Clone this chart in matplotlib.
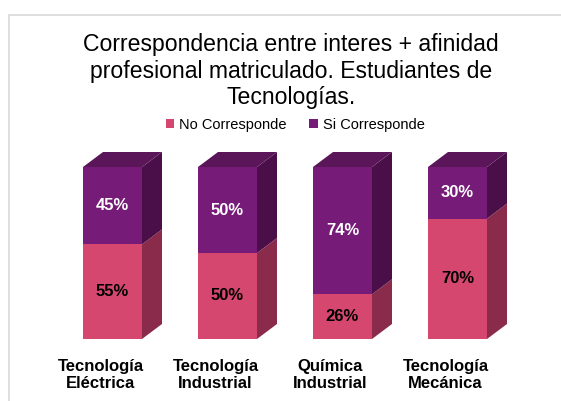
import matplotlib.pyplot as plt
from matplotlib.patches import Polygon, Rectangle, Patch

# datos
carreras = ["Tecnología\nEléctrica", "Tecnología\nIndustrial", "Química\nIndustrial", "Tecnología\nMecánica"]
no_corresponde = [55, 50, 26, 70]
si_corresponde = [45, 50, 74, 30]
series = ["No Corresponde", "Si Corresponde"]

# colores (frente, lado, arriba)
rosa = ("#D5476F", "#8A2B4C", "#B03A60")
morado = ("#761B77", "#4A0F48", "#5B1659")

plt.rcParams['font.family'] = ['Liberation Sans', 'DejaVu Sans']

fig = plt.figure(figsize=(5.61, 4.01), dpi=100)

# marco gris claro
fig.patches.append(Rectangle((9 / 561, -0.05), 1.1, (401 - 15) / 401 + 0.05,
                             transform=fig.transFigure, fill=False,
                             edgecolor="#D9D9D9", linewidth=1.2))

# ejes: y=0 en px 339, y=100 en px 167 ; x de 40 a 540 px
ax = fig.add_axes([40 / 561, (401 - 339) / 401, 500 / 561, 172 / 401])
ax.set_xlim((40 - 112.5) / 115, (540 - 112.5) / 115)
ax.set_ylim(0, 100)
ax.axis("off")

ancho = 59 / 115
dx = 20 / 115
dy = 15 / 172 * 100


def caja(x0, y0, y1, cols):
    x1 = x0 + ancho
    frente = Polygon([(x0, y0), (x1, y0), (x1, y1), (x0, y1)], closed=True,
                     facecolor=cols[0], edgecolor="none", clip_on=False)
    lado = Polygon([(x1, y0), (x1 + dx, y0 + dy), (x1 + dx, y1 + dy), (x1, y1)], closed=True,
                   facecolor=cols[1], edgecolor="none", clip_on=False)
    ax.add_patch(frente)
    ax.add_patch(lado)


for i in range(len(carreras)):
    x0 = i - ancho / 2
    x1 = x0 + ancho
    p = no_corresponde[i]
    caja(x0, 0, p, rosa)
    caja(x0, p, p + si_corresponde[i], morado)
    tope = p + si_corresponde[i]
    ax.add_patch(Polygon([(x0, tope), (x0 + dx, tope + dy), (x1 + dx, tope + dy), (x1, tope)],
                         closed=True, facecolor=morado[2], edgecolor="none", clip_on=False))
    ax.text(i, p / 2, f"{p}%", ha="center", va="center", fontsize=12,
            fontweight="bold", color="black")
    ax.text(i, p + si_corresponde[i] / 2, f"{si_corresponde[i]}%", ha="center", va="center",
            fontsize=12, fontweight="bold", color="white")
    ax.text(i - 12 / 115, -11.5, carreras[i], ha="center", va="top", fontsize=12,
            fontweight="bold", linespacing=1.2, clip_on=False)

# titulo
fig.text(291 / 561, 1 - 33 / 401,
         "Correspondencia entre interes + afinidad\nprofesional matriculado. Estudiantes de\nTecnologías.",
         ha="center", va="top", fontsize=16.6, linespacing=1.2)

# leyenda
handles = [Patch(facecolor=rosa[0], label=series[0]), Patch(facecolor=morado[0], label=series[1])]
fig.legend(handles=handles, loc="center", bbox_to_anchor=(295 / 561, 1 - 125 / 401), ncol=2,
           frameon=False, fontsize=10.5, handlelength=0.6, handleheight=0.6,
           handletextpad=0.3, columnspacing=1.6)

fig.savefig("out.png", dpi=100)
